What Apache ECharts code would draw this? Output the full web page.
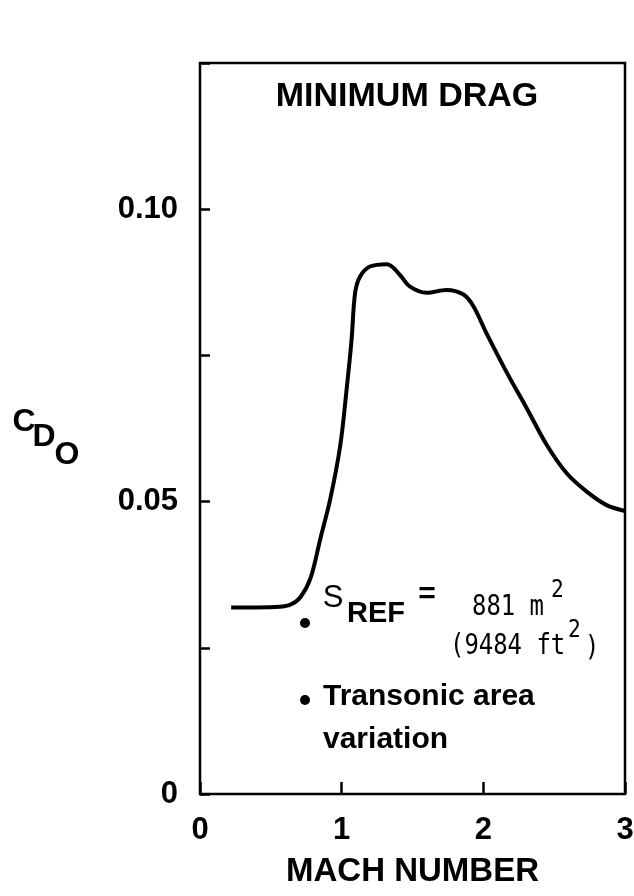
<!DOCTYPE html>
<html>
<head>
<meta charset="utf-8">
<script src="https://cdn.jsdelivr.net/npm/echarts@6/dist/echarts.min.js"></script>
<style>
  html, body { margin: 0; padding: 0; background: #fff; }
  #chart { width: 634px; height: 896px; }
</style>
</head>
<body>
<div id="chart"></div>
<script>
// Mach number vs minimum drag coefficient
const machNumbers = [0.22, 0.40, 0.56, 0.64, 0.71, 0.78, 0.85, 0.92, 0.99, 1.035, 1.07, 1.095, 1.13, 1.20, 1.32, 1.41, 1.48, 1.60, 1.74, 1.86, 1.93, 2.02, 2.165, 2.31, 2.45, 2.59, 2.73, 2.87, 3.0];
const cdoValues   = [0.0319, 0.0319, 0.0320, 0.0324, 0.0337, 0.0369, 0.0437, 0.0505, 0.0596, 0.0692, 0.0777, 0.0857, 0.0885, 0.0902, 0.0906, 0.0888, 0.0868, 0.0857, 0.0862, 0.0854, 0.0834, 0.0789, 0.0721, 0.0658, 0.0596, 0.0548, 0.0517, 0.0494, 0.0484];

const xTickLabels = ['0', '1', '2', '3'];
const yTickLabels = ['0', '', '0.05', '', '0.10', ''];

const SANS = '"Liberation Sans", Arial, sans-serif';
const MONO = '"DejaVu Sans Mono", monospace';

const chart = echarts.init(document.getElementById('chart'));

function txt(x, y, text, size, opts) {
  opts = opts || {};
  return {
    type: 'text', x: x, y: y, silent: true,
    scaleX: opts.sx || 1, scaleY: opts.sy || 1,
    style: {
      text: text,
      fontSize: size,
      fontWeight: opts.weight || 'bold',
      fontFamily: opts.family || SANS,
      fill: '#000',
      align: opts.align || 'left',
      verticalAlign: 'middle'
    }
  };
}

// typewriter-style note text: tall and narrow
const mono = { family: MONO, weight: 'normal', sx: 0.92, sy: 1.08 };

const option = {
  backgroundColor: '#fff',
  animation: false,
  grid: {
    left: 200, right: 9, top: 63, bottom: 102,
    outerBoundsMode: 'none',
    show: true, borderColor: '#000', borderWidth: 2.5, backgroundColor: 'transparent'
  },
  xAxis: {
    type: 'value', min: 0, max: 3, interval: 1,
    axisLine: { show: false },
    splitLine: { show: false },
    axisTick: { show: true, inside: true, length: 12, lineStyle: { color: '#000', width: 2.5 } },
    axisLabel: {
      margin: 21, color: '#000', fontSize: 31, fontWeight: 'bold', fontFamily: SANS,
      formatter: (v, i) => xTickLabels[i]
    },
    name: 'MACH NUMBER', nameLocation: 'middle', nameGap: 61,
    nameTextStyle: { color: '#000', fontSize: 33, fontWeight: 'bold', fontFamily: SANS }
  },
  yAxis: {
    type: 'value', min: 0, max: 0.125, interval: 0.025,
    axisLine: { show: false },
    splitLine: { show: false },
    axisTick: { show: true, inside: true, length: 10, lineStyle: { color: '#000', width: 2.5 } },
    axisLabel: {
      margin: 22, color: '#000', fontSize: 31, fontWeight: 'bold', fontFamily: SANS,
      padding: [5, 0, 0, 0],
      formatter: (v, i) => yTickLabels[i]
    }
  },
  series: [{
    type: 'line',
    data: machNumbers.map((m, i) => [m, cdoValues[i]]),
    smooth: 0.35,
    showSymbol: false,
    lineStyle: { color: '#000', width: 4 }
  }],
  graphic: [
    txt(407, 97, 'MINIMUM DRAG', 34, { align: 'center' }),
    // y-axis name C_DO
    txt(24, 422, 'C', 32, { align: 'center' }),
    txt(44, 437, 'D', 32, { align: 'center' }),
    txt(67, 455, 'O', 32, { align: 'center' }),
    // notes
    { type: 'circle', shape: { cx: 305, cy: 623, r: 5 }, style: { fill: '#000' }, silent: true },
    txt(333, 598, 'S', 31, { align: 'center', weight: 'normal' }),
    txt(347, 614, 'REF', 29),
    txt(427, 595, '=', 30, { align: 'center' }),
    txt(472, 608, '881 m', 26, mono),
    txt(551, 591, '2', 23, mono),
    txt(450, 647, '(9484 ft', 26, mono),
    txt(568, 631, '2', 23, mono),
    txt(585, 649, ')', 26, mono),
    { type: 'circle', shape: { cx: 305, cy: 700, r: 5 }, style: { fill: '#000' }, silent: true },
    txt(323, 697, 'Transonic area', 30),
    txt(323, 740, 'variation', 30)
  ]
};

chart.setOption(option);
</script>
</body>
</html>
